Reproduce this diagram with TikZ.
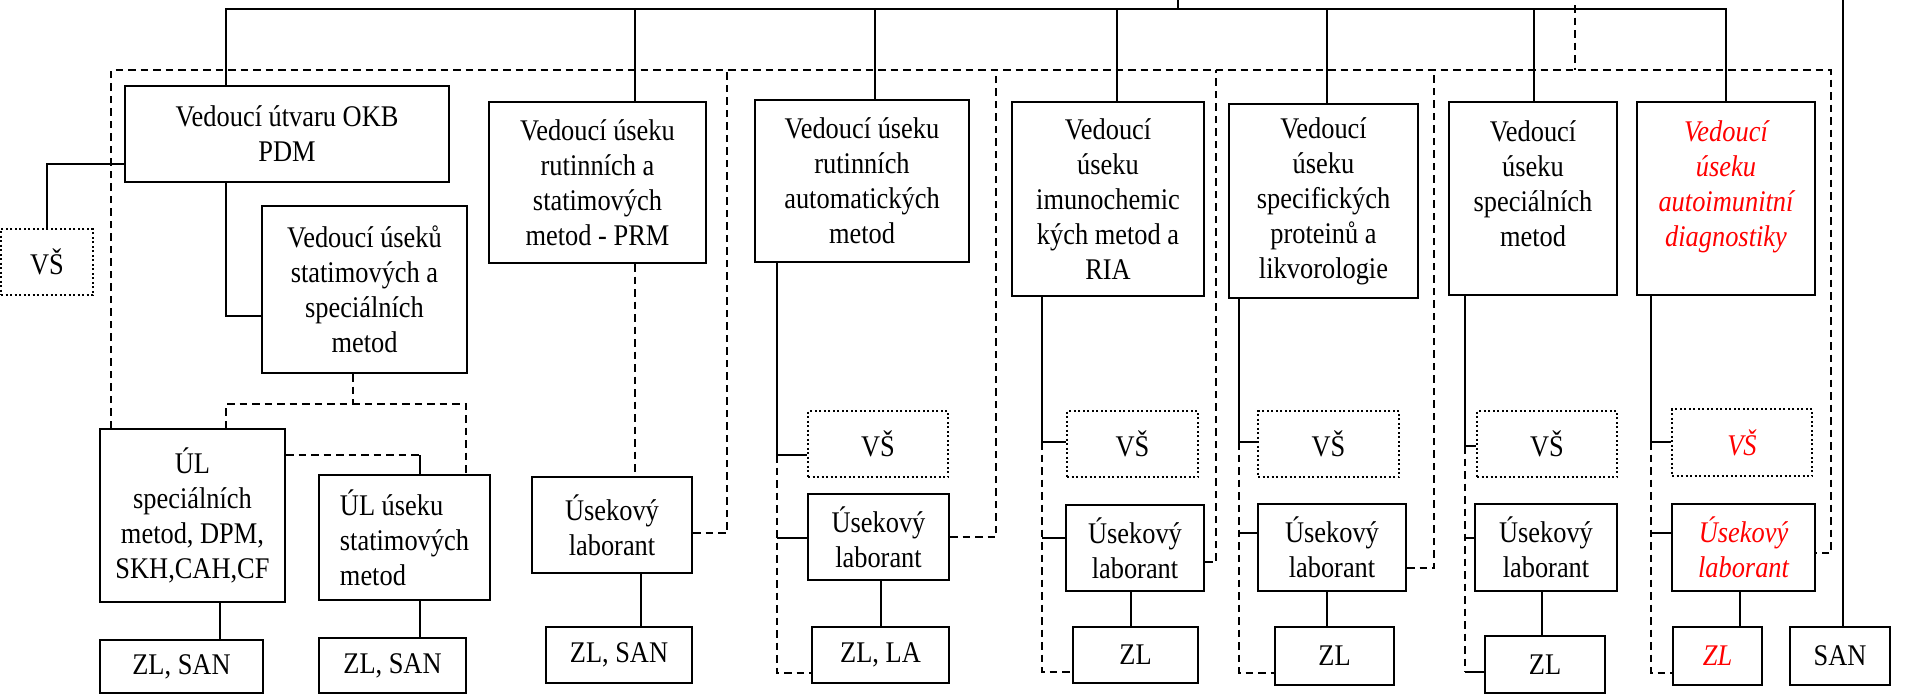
\documentclass[tikz,border=0pt]{standalone}
\usepackage{fontspec}
\setmainfont{Liberation Serif}[FakeStretch=0.88]

\tikzset{
	box/.style={draw, line width=0.8pt, align=center, inner sep=0pt,
		font=\fontsize{12}{14}\selectfont},
	dotbox/.style={box, densely dotted},
	redtxt/.style={text=red, font=\fontsize{12}{14}\selectfont\itshape},
	wh/.style 2 args={minimum width=#1*0.4pt, minimum height=#2*0.4pt},
	conn/.style={line width=0.55pt},
	dsh/.style={line width=0.7pt, dash pattern=on 3pt off 2pt},
}

\begin{document}
\begin{tikzpicture}[x=0.4pt, y=-0.4pt]
	\useasboundingbox (0,0) rectangle (1907,695);

	\coordinate (root) at (1178,0);
	\coordinate (sanTop) at (1843,0);
	\coordinate (busL) at (226,9);
	\coordinate (dnw) at (111,70);
	\coordinate (dne) at (1831,70);

	% vedouci
	\node[box, wh={324}{96}] (okb) at (287,134) {Vedoucí útvaru OKB\\PDM};
	\node[dotbox, wh={92}{66}] (vsl) at (47,262) {VŠ};
	\node[box, wh={205}{167}] (stat) at (364.5,289.5) {Vedoucí úseků\\statimových a\\speciálních\\metod};
	\node[box, wh={217}{161}] (prm) at (597.5,182.5) {Vedoucí úseku\\rutinních a\\statimových\\metod - PRM};
	\node[box, wh={214}{162}] (auto) at (862,181) {Vedoucí úseku\\rutinních\\automatických\\metod};
	\node[box, wh={192}{194}] (ria) at (1108,199) {Vedoucí\\úseku\\imunochemic\\kých metod a\\RIA};
	\node[box, wh={189}{194}] (spec) at (1323.5,201) {Vedoucí\\úseku\\specifických\\proteinů a\\likvorologie};
	\node[box, wh={168}{193}] (spm) at (1533,198.5) {Vedoucí\\úseku\\speciálních\\metod\\[-6pt] \strut};
	\node[box, redtxt, wh={178}{193}] (aut) at (1726,198.5) {Vedoucí\\úseku\\autoimunitní\\diagnostiky\\[-6pt] \strut};

	% UL a usekovi laboranti
	\node[box, wh={185}{173}] (uls) at (192.5,515.5) {ÚL\\speciálních\\metod, DPM,\\SKH,CAH,CF};
	\node[box, align=left, wh={171}{125}] (ult) at (404.5,537.5) {ÚL úseku\\statimových\\metod};
	\node[box, wh={160}{96}] (upr) at (612,525) {Úsekový\\laborant};

	\node[dotbox, wh={140}{66}] (vsa) at (878,444) {VŠ};
	\node[box, wh={141}{86}] (uau) at (878.5,537) {Úsekový\\laborant};
	\node[dotbox, wh={131}{66}] (vsr) at (1132.5,444) {VŠ};
	\node[box, wh={138}{86}] (uri) at (1135,548) {Úsekový\\laborant};
	\node[dotbox, wh={141}{66}] (vss) at (1328.5,444) {VŠ};
	\node[box, wh={148}{87}] (usp) at (1332,547.5) {Úsekový\\laborant};
	\node[dotbox, wh={140}{66}] (vsm) at (1547,444) {VŠ};
	\node[box, wh={142}{87}] (usm) at (1546,547.5) {Úsekový\\laborant};
	\node[dotbox, redtxt, wh={140}{67}] (vsu) at (1742,442.5) {VŠ};
	\node[box, redtxt, wh={143}{87}] (uu) at (1743.5,547.5) {Úsekový\\laborant};

	% ZL, SAN
	\node[box, wh={163}{53}] (zl1) at (181.5,666.5) {ZL, SAN};
	\node[box, wh={147}{55}] (zl2) at (392.5,665.5) {ZL, SAN};
	\node[box, wh={146}{56}] (zl3) at (619,655) {ZL, SAN};
	\node[box, wh={137}{56}] (zla) at (880.5,655) {ZL, LA};
	\node[box, wh={125}{56}] (zlr) at (1135.5,655) {ZL};
	\node[box, wh={119}{58}] (zls) at (1334.5,656) {ZL};
	\node[box, wh={120}{57}] (zlm) at (1545,664.5) {ZL};
	\node[box, redtxt, wh={89}{58}] (zlu) at (1717.5,656) {ZL};
	\node[box, wh={100}{58}] (san) at (1840,656) {SAN};

	% hlavni vedeni
	\draw[conn] (root) -- (busL -| root);
	\draw[conn] (okb.north -| busL) -- (busL) -| (aut.north);
	\draw[conn] (busL -| 635,0) -- (prm.north -| 635,0);
	\draw[conn] (busL -| 875,0) -- (auto.north -| 875,0);
	\draw[conn] (busL -| 1117,0) -- (ria.north -| 1117,0);
	\draw[conn] (busL -| 1327,0) -- (spec.north -| 1327,0);
	\draw[conn] (busL -| 1534,0) -- (spm.north -| 1534,0);
	\draw[conn] (sanTop) -- (san.north -| sanTop);
	\draw[conn] (vsl.north) |- (okb.west |- 0,164);
	\draw[conn] (okb.south -| busL) |- (stat.west |- 0,316);

	% carkovane vedeni
	\draw[dsh] (busL -| 1575,0) ++(0,-4) -- (dnw -| 1575,0);
	\draw[dsh] (uls.north -| dnw) -- (dnw) -- (dne) |- (uu.east |- 0,553);
	\draw[dsh] (upr.east |- 0,533) -| (dnw -| 727,0);
	\draw[dsh] (uau.east) -| (dnw -| 996,0);
	\draw[dsh] (uri.east |- 0,562) -| (dnw -| 1216,0);
	\draw[dsh] (usp.east |- 0,568) -| (dnw -| 1434,0);
	\draw[dsh] (prm.south -| 635,0) -- (upr.north -| 635,0);

	\coordinate (sj) at (353,404);
	\coordinate (uj) at (420,455);
	\draw[dsh] (stat.south -| sj) -- (sj);
	\draw[dsh] (uls.north -| busL) |- (sj) -| (ult.north -| 466,0);
	\draw[dsh] (uls.east |- uj) -- (uj);
	\draw[conn] (uj) -- (ult.north -| uj);

	% sloupce useku
	\coordinate (ja) at (777,455);
	\draw[conn] (auto.south -| ja) -- (ja) -- (vsa.west |- ja);
	\draw[dsh] (ja) |- (zla.west |- 0,673);
	\draw[conn] (ja |- 0,538) -- (uau.west |- 0,538);

	\coordinate (jr) at (1042,442);
	\draw[conn] (ria.south -| jr) -- (jr) -- (vsr.west |- jr);
	\draw[dsh] (jr) |- (zlr.west |- 0,672);
	\draw[conn] (jr |- 0,538) -- (uri.west |- 0,538);

	\coordinate (js) at (1239,442);
	\draw[conn] (spec.south -| js) -- (js) -- (vss.west |- js);
	\draw[dsh] (js) |- (zls.west |- 0,673);
	\draw[conn] (js |- 0,533) -- (usp.west |- 0,533);

	\coordinate (jm) at (1465,446);
	\draw[conn] (spm.south -| jm) -- (jm) -- (vsm.west |- jm);
	\draw[dsh] (jm) -- (jm |- 0,672);
	\draw[conn] (jm |- 0,672) -- (zlm.west |- 0,672);
	\draw[conn] (jm |- 0,538) -- (usm.west |- 0,538);

	\coordinate (ju) at (1651,442);
	\draw[conn] (aut.south -| ju) -- (ju) -- (vsu.west |- ju);
	\draw[dsh] (ju) |- (zlu.west |- 0,673);
	\draw[conn] (ju |- 0,533) -- (uu.west |- 0,533);

	% k ZL
	\draw[conn] (uls.south -| 220,0) -- (zl1.north -| 220,0);
	\draw[conn] (ult.south -| uj) -- (zl2.north -| uj);
	\draw[conn] (upr.south -| 641,0) -- (zl3.north -| 641,0);
	\draw[conn] (uau.south -| 881,0) -- (zla.north -| 881,0);
	\draw[conn] (uri.south -| 1131,0) -- (zlr.north -| 1131,0);
	\draw[conn] (usp.south -| 1327,0) -- (zls.north -| 1327,0);
	\draw[conn] (usm.south -| 1542,0) -- (zlm.north -| 1542,0);
	\draw[conn] (uu.south -| 1740,0) -- (zlu.north -| 1740,0);
\end{tikzpicture}
\end{document}
